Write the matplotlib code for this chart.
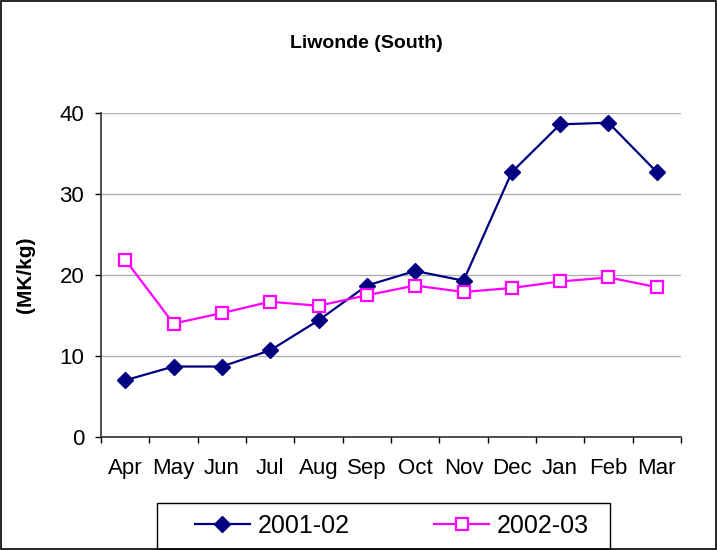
import matplotlib.pyplot as plt
import numpy as np
from matplotlib.patches import Rectangle

plt.rcParams["font.family"] = ["Liberation Sans", "DejaVu Sans"]

months = ["Apr", "May", "Jun", "Jul", "Aug", "Sep", "Oct", "Nov", "Dec", "Jan", "Feb", "Mar"]
prices_2001_02 = [7.0, 8.7, 8.7, 10.7, 14.4, 18.7, 20.5, 19.3, 32.7, 38.6, 38.8, 32.7]
prices_2002_03 = [21.9, 14.0, 15.3, 16.7, 16.2, 17.5, 18.7, 17.9, 18.4, 19.2, 19.7, 18.5]

W, H = 717, 550


def main():
    fig = plt.figure(figsize=(W / 100, H / 100), dpi=100)
    ax = fig.add_axes([101 / W, 1 - 437 / H, 580 / W, 324 / H])

    x = np.arange(len(months))
    l1, = ax.plot(x, prices_2001_02, color="#000080", marker="D", markersize=8,
                  linewidth=1.6, label="2001-02", zorder=3)
    l2, = ax.plot(x, prices_2002_03, color="#FF00FF", marker="s", markersize=8,
                  markerfacecolor="white", markeredgewidth=1.6, linewidth=1.6,
                  label="2002-03", zorder=3)

    ax.set_xlim(-0.5, len(months) - 0.5)
    ax.set_ylim(0, 40)
    ax.set_yticks([0, 10, 20, 30, 40])
    ax.yaxis.grid(True, color="#b0b0b0", linewidth=1)
    ax.set_axisbelow(True)

    ax.set_xticks(x)
    ax.set_xticklabels(months)
    ax.set_xticks(np.arange(-0.5, len(months)), minor=True)
    ax.tick_params(axis="x", which="major", length=0, pad=15, labelsize=16)
    ax.tick_params(axis="x", which="minor", length=4, width=1, direction="out")
    ax.tick_params(axis="y", length=4, width=1, direction="out", labelsize=16, pad=8)

    ax.spines["top"].set_visible(False)
    ax.spines["right"].set_visible(False)
    for s in ("left", "bottom"):
        ax.spines[s].set_color("#303030")
        ax.spines[s].set_linewidth(1.2)

    ax.set_ylabel("(MK/kg)", fontsize=15, fontweight="bold")
    ax.yaxis.set_label_coords((35 - 101) / 580, 0.5)
    fig.text(366 / W, 1 - 44 / H, "Liwonde (South)", ha="center", va="center",
             fontsize=14, fontweight="bold")

    # legend box, Excel style
    fig.patches.append(Rectangle((157 / W, 1 - 549 / H), 453 / W, 46 / H,
                                 transform=fig.transFigure, fill=False,
                                 edgecolor="black", linewidth=1))
    fig.legend(handles=[l1, l2], loc="center", ncol=2,
               bbox_to_anchor=(392 / W, 1 - 526 / H),
               fontsize=18, frameon=False,
               handlelength=2.2, handletextpad=0.3, columnspacing=3.4)

    fig.patches.append(Rectangle((0.001, 0.001), 0.997, 0.997, transform=fig.transFigure,
                                 fill=False, edgecolor="black", linewidth=1.2))

    fig.savefig("out.png", dpi=100)
    plt.close(fig)


if __name__ == "__main__":
    main()
